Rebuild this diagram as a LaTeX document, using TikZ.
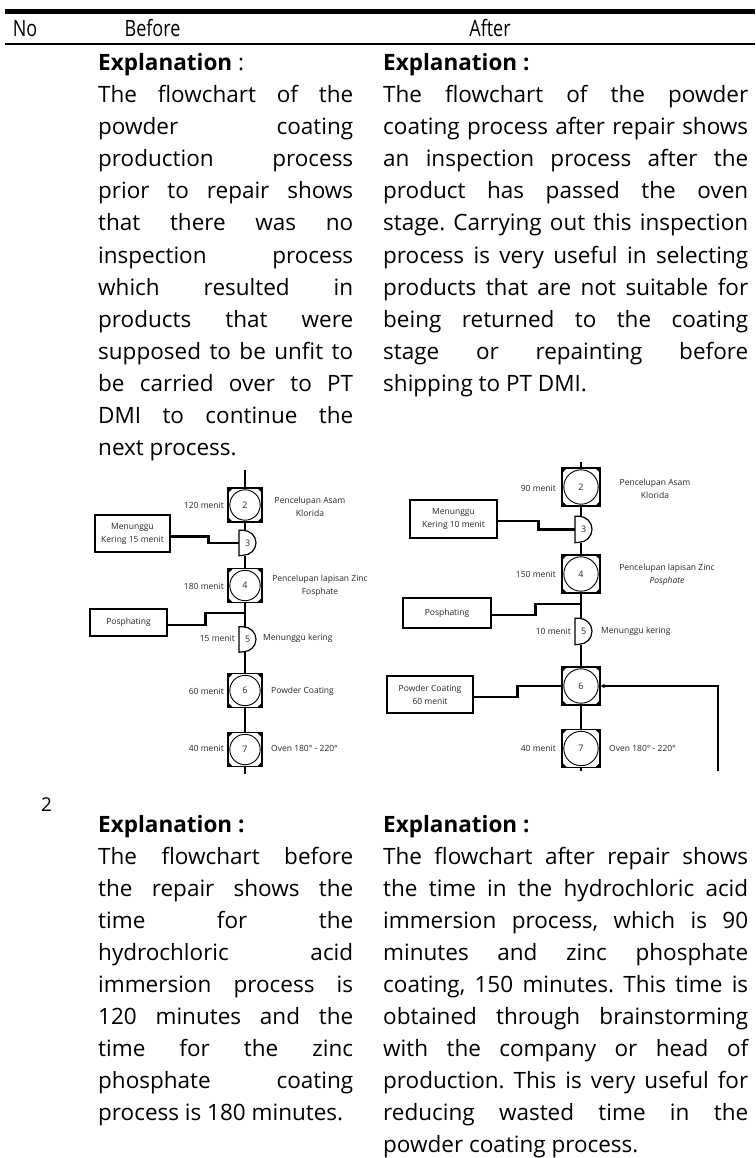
\documentclass[tikz,border=0pt]{standalone}
\usepackage{fontspec}
\setmainfont{Open Sans}
\usetikzlibrary{arrows.meta}
\newcommand\jln[4]{\node[txt] (#1) at (#2) {\makebox[#3][s]{#4}};}
\newcommand\pln[3]{\node[txt] (#1) at (#2) {#3};}
\newcommand\dsh[2]{\draw[line width=1.2pt] (#1.north west) -- ([xshift=4pt]#1.north west)
  arc[start angle=90,end angle=-90,x radius=13pt,y radius=#2] -- (#1.south west) -- cycle;}
\frenchspacing
\begin{document}
\begin{tikzpicture}[x=1pt,y=-1pt,
 txt/.style={anchor=base west,inner sep=0pt,font=\fontsize{22.5}{27}\selectfont},
 hdr/.style={anchor=base,inner sep=0pt,font=\fontsize{22.5}{27}\selectfont},
 lab/.style={inner sep=0pt,font=\fontsize{8.5}{13}\selectfont,text=black!85,align=center},
 sqop/.style={draw,line width=1.2pt,minimum width=#1,minimum height=#1,inner sep=0pt,
   font=\fontsize{9}{10}\selectfont,text=black!85,
   path picture={
     \draw[line width=0.9pt] (path picture bounding box.center) circle[radius=#1/2-1.8pt];
     \fill (path picture bounding box.north west) -- ++(5pt,0pt) -- ++(-5pt,-5pt) -- cycle;
     \fill (path picture bounding box.north east) -- ++(-5pt,0pt) -- ++(5pt,-5pt) -- cycle;
     \fill (path picture bounding box.south west) -- ++(5pt,0pt) -- ++(-5pt,5pt) -- cycle;
     \fill (path picture bounding box.south east) -- ++(-5pt,0pt) -- ++(5pt,5pt) -- cycle;
   }},
 dly/.style={minimum width=17pt,minimum height=#1,inner sep=0pt,anchor=west,
   font=\fontsize{9}{10}\selectfont,text=black!85},
 fbox/.style={draw,line width=1.2pt,inner sep=1pt,align=center,
   font=\fontsize{8.5}{13}\selectfont,text=black!85},
 ln/.style={line width=1.2pt},
 thk/.style={line width=2.3pt}
]
\useasboundingbox (0,0) rectangle (755,1158);

% header rules
\draw[line width=4.5pt] (5,11.7) -- (755,11.7);
\draw[line width=2pt] (5,44) -- (755,44);
\node[hdr] (hNo) at (25,37) {\scalebox{0.8}[1]{No}};
\node[hdr] (hBefore) at (152.5,37) {\scalebox{0.8}[1]{Before}};
\node[hdr] (hAfter) at (490,37) {\scalebox{0.8}[1]{After}};

% top left text
\pln{a0}{98,71}{\textbf{Explanation} :}
\jln{a1}{98,103}{255pt}{The flowchart of the}
\jln{a2}{98,135}{255pt}{powder coating}
\jln{a3}{98,167}{255pt}{production process}
\jln{a4}{98,199}{255pt}{prior to repair shows}
\jln{a5}{98,231}{255pt}{that there was no}
\jln{a6}{98,263}{255pt}{inspection process}
\jln{a7}{98,295}{255pt}{which resulted in}
\jln{a8}{98,327}{255pt}{products that were}
\jln{a9}{98,359}{255pt}{supposed to be unfit to}
\jln{a10}{98,391}{255pt}{be carried over to PT}
\jln{a11}{98,423}{255pt}{DMI to continue the}
\pln{a12}{98,455}{next process.}

% top right text
\pln{b0}{383,71}{\textbf{Explanation :}}
\jln{b1}{383,103}{365pt}{The flowchart of the powder}
\jln{b2}{383,135}{365pt}{coating process after repair shows}
\jln{b3}{383,167}{365pt}{an inspection process after the}
\jln{b4}{383,199}{365pt}{product has passed the oven}
\jln{b5}{383,231}{365pt}{stage. Carrying out this inspection}
\jln{b6}{383,263}{365pt}{process is very useful in selecting}
\jln{b7}{383,295}{365pt}{products that are not suitable for}
\jln{b8}{383,327}{365pt}{being returned to the coating}
\jln{b9}{383,359}{365pt}{stage or repainting before}
\pln{b10}{383,391}{shipping to PT DMI.}

% ---------- left flowchart ----------
\coordinate (Lt) at (245,470);
\coordinate (Lb) at (245,774);
\coordinate (Lj) at (245,613);
\node[sqop=34pt] (Ln2) at (245,505) {2};
\node[dly=25pt] (Ld3) at (239,543) {3};
\dsh{Ld3}{12.5pt}
\node[sqop=34pt] (Ln4) at (245,585.5) {4};
\node[dly=25pt] (Ld5) at (239,639.5) {5};
\dsh{Ld5}{12.5pt}
\node[sqop=34pt] (Ln6) at (245,690.5) {6};
\node[sqop=34pt] (Ln7) at (245,749.5) {7};
\node[fbox,minimum width=75pt,minimum height=37pt] (LB1) at (132.5,533.5) {Menunggu\\Kering 15 menit};
\node[fbox,minimum width=77pt,minimum height=27pt] (LB2) at (128.5,622.5) {Posphating};

\node[lab,anchor=east] (Ll2) at (224,505) {120 menit};
\node[lab] (Lr2) at (310,507) {Pencelupan Asam\\Klorida};
\node[lab,anchor=east] (Ll4) at (224,586) {180 menit};
\node[lab] (Lr4) at (320,586) {Pencelupan lapisan Zinc\\Fosphate};
\node[lab,anchor=east] (Ll5) at (235,638) {15 menit};
\node[lab,anchor=west] (Lr5) at (263,638) {Menunggu kering};
\node[lab,anchor=east] (Ll6) at (224,691) {60 menit};
\node[lab,anchor=west] (Lr6) at (271,691) {Powder Coating};
\node[lab,anchor=east] (Ll7) at (224,748) {40 menit};
\node[lab,anchor=west] (Lr7) at (271,748) {Oven 180° - 220°};

\draw[ln] (Lt) -- (Ln2);
\draw[ln] (Ln2) -- (Ln2 |- Ld3.north);
\draw[ln] (Ln2 |- Ld3.south) -- (Ln4);
\draw[ln] (Ln4) -- (Ln4 |- Ld5.north);
\draw[ln] (Ln4 |- Ld5.south) -- (Ln6);
\draw[ln] (Ln6) -- (Ln7);
\draw[ln] (Ln7) -- (Lb);
\draw[thk] ([yshift=-3pt]LB1.east) -- ++(38,0) |- (Ld3.west);
\draw[thk] ([yshift=-2.5pt]LB2.east) -- ++(38,0) |- (Lj);

% ---------- right flowchart ----------
\coordinate (Rt) at (581,462);
\coordinate (Rb) at (581,771);
\coordinate (Rj) at (581,604);
\coordinate (Rc) at (718,771);
\node[sqop=38pt] (Rn2) at (581,487) {2};
\node[dly=26pt] (Rd3) at (575,529.5) {3};
\dsh{Rd3}{13pt}
\node[sqop=38pt] (Rn4) at (581,574) {4};
\node[dly=26pt] (Rd5) at (575,631.5) {5};
\dsh{Rd5}{13pt}
\node[sqop=38pt] (Rn6) at (581,686) {6};
\node[sqop=38pt] (Rn7) at (581,748.5) {7};
\node[fbox,minimum width=87pt,minimum height=38pt] (RB1) at (453.5,519) {Menunggu\\Kering 10 menit};
\node[fbox,minimum width=88pt,minimum height=30pt] (RB2) at (447,613) {Posphating};
\node[fbox,minimum width=86pt,minimum height=37pt] (RB3) at (430,694.5) {Powder Coating\\60 menit};

\node[lab,anchor=east] (Rl2) at (556,488) {90 menit};
\node[lab] (Rr2) at (655,489) {Pencelupan Asam\\Klorida};
\node[lab,anchor=east] (Rl4) at (556,574) {150 menit};
\node[lab] (Rr4) at (667,575) {Pencelupan lapisan Zinc\\\textit{Posphate}};
\node[lab,anchor=east] (Rl5) at (571,631) {10 menit};
\node[lab,anchor=west] (Rr5) at (601,631) {Menunggu kering};
\node[lab,anchor=east] (Rl7) at (556,748) {40 menit};
\node[lab,anchor=west] (Rr7) at (609,748) {Oven 180° - 220°};

\draw[ln] (Rt) -- (Rn2);
\draw[ln] (Rn2) -- (Rn2 |- Rd3.north);
\draw[ln] (Rn2 |- Rd3.south) -- (Rn4);
\draw[ln] (Rn4) -- (Rn4 |- Rd5.north);
\draw[ln] (Rn4 |- Rd5.south) -- (Rn6);
\draw[ln] (Rn6) -- (Rn7);
\draw[ln] (Rn7) -- (Rb);
\draw[thk] ([yshift=-2pt]RB1.east) -- ++(41,0) |- (Rd3.west);
\draw[thk] ([yshift=-2pt]RB2.east) -- ++(44,0) |- (Rj);
\draw[thk] ([yshift=-2.5pt]RB3.east) -- ++(44,0) |- (Rn6.west);
\draw[ln,-{Triangle[length=4pt,width=4pt]}] (Rc) |- (Rn6.east);

% row number
\node[txt,font=\fontsize{19}{22}\selectfont] (rowno) at (41,811) {2};

% bottom left text
\pln{c0}{98,832}{\textbf{Explanation :}}
\jln{c1}{98,864}{255pt}{The flowchart before}
\jln{c2}{98,896}{255pt}{the repair shows the}
\jln{c3}{98,928}{255pt}{time for the}
\jln{c4}{98,960}{255pt}{hydrochloric acid}
\jln{c5}{98,992}{255pt}{immersion process is}
\jln{c6}{98,1024}{255pt}{120 minutes and the}
\jln{c7}{98,1056}{255pt}{time for the zinc}
\jln{c8}{98,1088}{255pt}{phosphate coating}
\pln{c9}{98,1120}{process is 180 minutes.}

% bottom right text
\pln{d0}{383,832}{\textbf{Explanation :}}
\jln{d1}{383,864}{365pt}{The flowchart after repair shows}
\jln{d2}{383,896}{365pt}{the time in the hydrochloric acid}
\jln{d3}{383,928}{365pt}{immersion process, which is 90}
\jln{d4}{383,960}{365pt}{minutes and zinc phosphate}
\jln{d5}{383,992}{365pt}{coating, 150 minutes. This time is}
\jln{d6}{383,1024}{365pt}{obtained through brainstorming}
\jln{d7}{383,1056}{365pt}{with the company or head of}
\jln{d8}{383,1088}{365pt}{production. This is very useful for}
\jln{d9}{383,1120}{365pt}{reducing wasted time in the}
\pln{d10}{383,1152}{powder coating process.}
\end{tikzpicture}
\end{document}
